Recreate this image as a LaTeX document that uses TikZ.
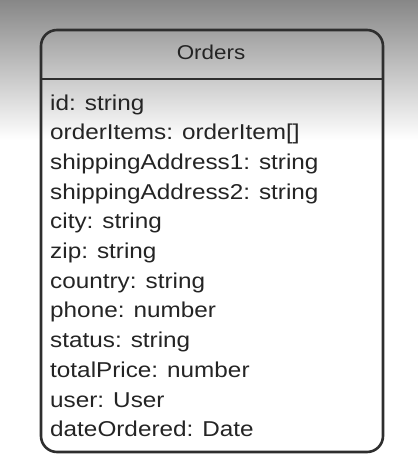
\documentclass[tikz,border=0pt]{standalone}
\usepackage{fontspec}
\setmainfont{Liberation Sans}
\begin{document}
\begin{tikzpicture}[x=1pt,y=1pt,
  attr/.style={anchor=base west, inner sep=0pt, font=\fontsize{21.5}{24}\selectfont, text=black!86, xscale=1.13, transform shape},
  title/.style={anchor=base, inner sep=0pt, font=\fontsize{20}{24}\selectfont, text=black!86, xscale=1.12, transform shape},
  boxline/.style={draw=black!82, line width=2.6pt}]
\useasboundingbox (0,0) rectangle (418,-461);
\fill[white] (0,0) rectangle (418,-461);
\shade[top color=black!47, middle color=black!20, bottom color=white] (0,0) rectangle (418,-140);
\draw[boxline, rounded corners=16pt] (41,-30) rectangle (383,-452);
\coordinate (hl) at (41,-79);
\coordinate (hr) at (383,-79);
\draw[boxline] (hl) -- (hr);
\node[title] (t) at (211,-59) {Orders};
\node[attr] (a1) at (50,-110) {id: string};
\node[attr] (a2) at (50,-139.7) {orderItems: orderItem[]};
\node[attr] (a3) at (50,-169.4) {shippingAddress1: string};
\node[attr] (a4) at (50,-199.1) {shippingAddress2: string};
\node[attr] (a5) at (50,-228.8) {city: string};
\node[attr] (a6) at (50,-258.5) {zip: string};
\node[attr] (a7) at (50,-288.2) {country: string};
\node[attr] (a8) at (50,-317.9) {phone: number};
\node[attr] (a9) at (50,-347.6) {status: string};
\node[attr] (a10) at (50,-377.3) {totalPrice: number};
\node[attr] (a11) at (50,-407) {user: User};
\node[attr] (a12) at (50,-436.7) {dateOrdered: Date};
\end{tikzpicture}
\end{document}
